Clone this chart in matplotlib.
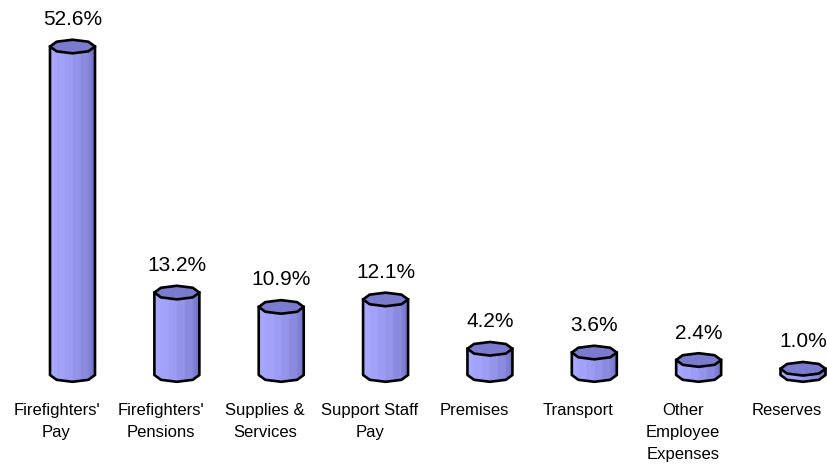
import numpy as np
import matplotlib
matplotlib.use("Agg")
import matplotlib.pyplot as plt
from matplotlib.colors import to_rgb

categories = ["Firefighters'\nPay", "Firefighters'\nPensions", "Supplies &\nServices",
              "Support Staff\nPay", "Premises", "Transport",
              "Other\nEmployee\nExpenses", "Reserves"]
values = [52.6, 13.2, 10.9, 12.1, 4.2, 3.6, 2.4, 1.0]
value_labels = [f"{v:.1f}%" for v in values]

plt.rcParams['font.family'] = ['Liberation Sans', 'DejaVu Sans']

W, H, DPI = 828, 465, 100
fig = plt.figure(figsize=(W / DPI, H / DPI), dpi=DPI)
fig.patch.set_facecolor('white')

px_per_x = 104.36
px_per_y = 6.245
base_px = 375.0
x0_px = 72.5
ylim = (0, base_px / px_per_y)
xlim = (-x0_px / px_per_x, (W - x0_px) / px_per_x)
ax = fig.add_axes([0, (H - base_px) / H, 1, base_px / H])
ax.set_xlim(*xlim)
ax.set_ylim(*ylim)
ax.axis('off')

half_w = 22.5 / px_per_x     # radius in x data units
half_h = 6.8 / px_per_y      # ellipse half-height in y data units
offset = 0.0
angles = offset + np.arange(8) * np.pi / 4

light = np.array(to_rgb('#A6A6FF'))
dark = np.array(to_rgb('#6E6EC2'))
top_col = '#7A7ACE'
edge = 'black'
lw = 1.9


def ring(cx, cy):
    return cx + half_w * np.cos(angles), cy + half_h * np.sin(angles)


for i, v in enumerate(values):
    cx = i
    th = np.pi + np.arange(5) * np.pi / 4
    fx = cx + half_w * np.cos(th)
    fyoff = half_h * np.sin(th)
    n_sub = 2
    segs = len(th) - 1
    k = 0
    total = segs * n_sub
    for s in range(segs):
        for j in range(n_sub):
            t0 = j / n_sub
            t1 = (j + 1) / n_sub
            xa = fx[s] + (fx[s + 1] - fx[s]) * t0
            xb = fx[s] + (fx[s + 1] - fx[s]) * t1
            ya = fyoff[s] + (fyoff[s + 1] - fyoff[s]) * t0
            yb = fyoff[s] + (fyoff[s + 1] - fyoff[s]) * t1
            frac = (k + 0.5) / total
            shade = np.clip((frac - 0.2) / 0.8, 0, 1) ** 1.4
            col = light * (1 - shade) + dark * shade
            ax.fill([xa, xb, xb, xa], [ya, yb, v + yb, v + ya],
                    color=col, lw=0.4, ec=col, zorder=2 + i * 0.01, clip_on=False)
            k += 1
    tx, ty = ring(cx, v)
    ax.fill(tx, ty, color=top_col, ec=edge, lw=lw, joinstyle='round', zorder=3 + i * 0.01, clip_on=False)
    ox = np.concatenate([[fx[0]], fx, [fx[-1]]])
    oy = np.concatenate([[v + fyoff[0]], fyoff, [v + fyoff[-1]]])
    ax.plot(ox, oy, color=edge, lw=lw, solid_joinstyle='round', zorder=3 + i * 0.01, clip_on=False)

    ax.annotate(value_labels[i], xy=(cx, v), xytext=(0, 27 * 72 / DPI), textcoords='offset points',
                ha='center', va='center', fontsize=15, color='black', annotation_clip=False)
    ax.annotate(categories[i], xy=(cx, 0), xytext=(-16 * 72 / DPI, -27.5 * 72 / DPI),
                textcoords='offset points', ha='center', va='top', fontsize=12, color='black',
                linespacing=1.6, annotation_clip=False)

fig.savefig('out.png', dpi=DPI, facecolor='white')
